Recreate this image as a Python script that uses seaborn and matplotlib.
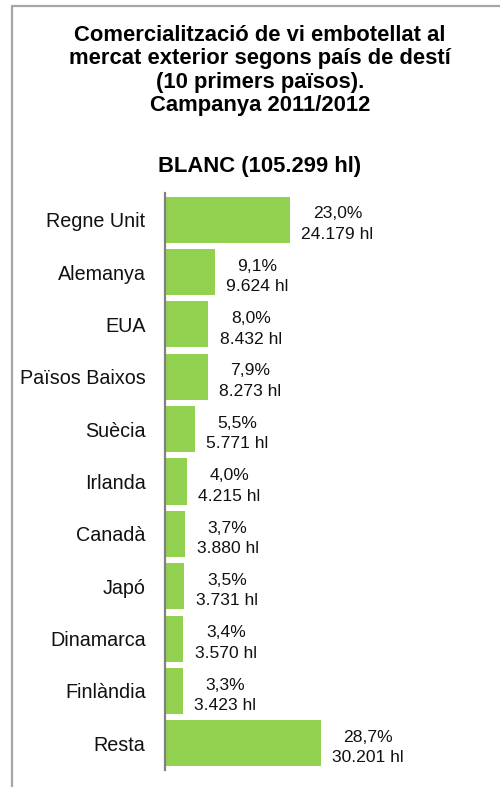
import matplotlib
matplotlib.use("Agg")
import matplotlib.pyplot as plt
import matplotlib.patches as mpatches
import seaborn as sns

countries = ["Regne Unit", "Alemanya", "EUA", "Països Baixos", "Suècia", "Irlanda",
             "Canadà", "Japó", "Dinamarca", "Finlàndia", "Resta"]
hl = [24179, 9624, 8432, 8273, 5771, 4215, 3880, 3731, 3570, 3423, 30201]
pct = ["23,0%", "9,1%", "8,0%", "7,9%", "5,5%", "4,0%", "3,7%", "3,5%", "3,4%", "3,3%", "28,7%"]

sns.set_theme(style="white")
plt.rcParams["font.family"] = ["Liberation Sans", "DejaVu Sans"]

fig = plt.figure(figsize=(5, 7.87), dpi=100)
ax = fig.add_axes([0.33, 0.0222, 0.67, 0.7320])

sns.barplot(x=hl, y=countries, orient="h", color="#92D050", saturation=1,
            width=0.88, ax=ax, edgecolor="none")

ax.set_xlim(0, 65000)
ax.set_ylim(10.5, -0.5)
ax.set_xticks([])
ax.set_xlabel("")
ax.set_ylabel("")
for s in ["top", "right", "bottom"]:
    ax.spines[s].set_visible(False)
ax.spines["left"].set_color("#808080")
ax.spines["left"].set_linewidth(1.6)
ax.tick_params(axis="y", length=0, pad=14, labelsize=14.2, colors="#111111")
ax.set_facecolor("none")

for i, (v, p) in enumerate(zip(hl, pct)):
    txt = p + "\n" + f"{v:,}".replace(",", ".") + " hl"
    ax.annotate(txt, xy=(v, i), xytext=(8.4, -3.2), textcoords="offset points",
                ha="left", va="center", multialignment="center",
                fontsize=12.6, color="#111111", linespacing=1.45)

fig.text(0.52, 1 - 25 / 787, "Comercialització de vi embotellat al\nmercat exterior segons país de destí\n(10 primers països).\nCampanya 2011/2012",
         ha="center", va="top", fontsize=15.8, fontweight="bold", linespacing=1.15,
         color="#000000")
fig.text(0.52, 1 - 172 / 787, "BLANC (105.299 hl)", ha="center", va="baseline",
         fontsize=15.8, fontweight="bold", color="#000000")

frame = mpatches.Rectangle((11.5 / 500, -0.2), 1.2, 1.2 - 5.5 / 787,
                           transform=fig.transFigure, fill=False,
                           edgecolor="#A6A6A6", linewidth=1.6, clip_on=False)
fig.patches.append(frame)

fig.savefig("out.png", dpi=100)
